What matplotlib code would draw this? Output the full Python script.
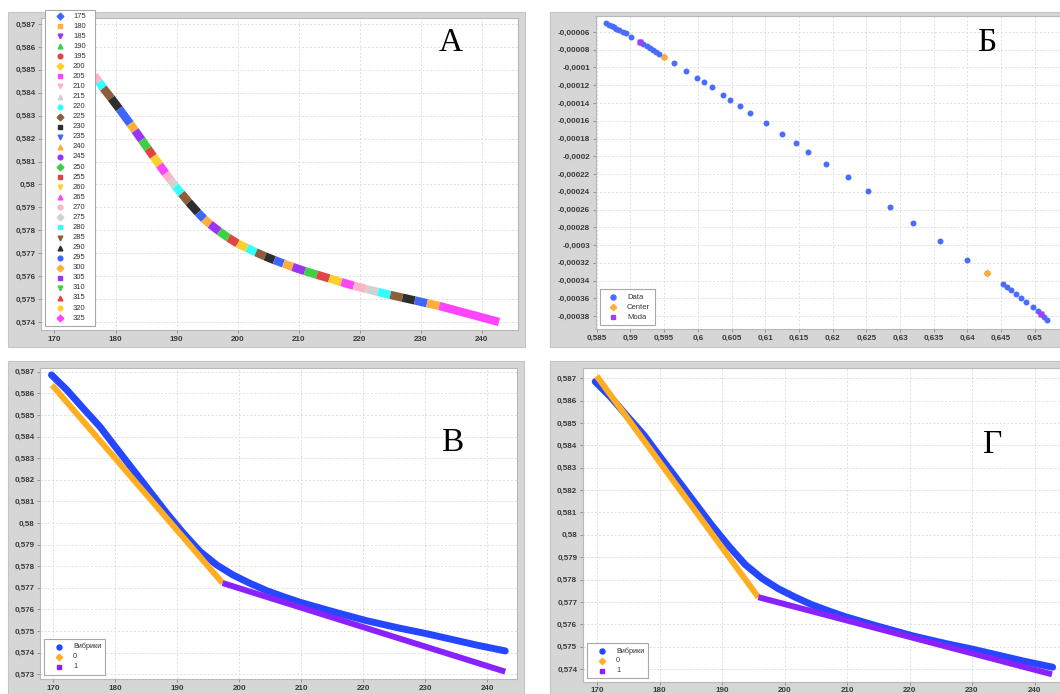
import matplotlib
matplotlib.use('Agg')
import matplotlib.pyplot as plt
from matplotlib.patches import Rectangle
from matplotlib.lines import Line2D
from matplotlib.ticker import FixedLocator, FuncFormatter

# ---------------- data ----------------
# Panel A: temperature series (legend) and colored chunks along the curve
a_labels = [175, 180, 185, 190, 195, 200, 205, 210, 215, 220, 225, 230, 235, 240, 245,
            250, 255, 260, 265, 270, 275, 280, 285, 290, 295, 300, 305, 310, 315, 320, 325]
a_x = [176.5, 177.3, 178.0, 179.3, 180.6, 182.4, 183.2, 184.3, 185.3, 186.2,
       187.2, 188.2, 189.0, 189.8, 190.8, 192.0, 193.5, 194.5, 195.5, 197.0,
       198.5, 200.0, 201.5, 203.0, 204.5, 206.0, 207.5, 209.0, 211.0, 213.0,
       215.0, 217.0, 219.0, 221.0, 223.0, 225.0, 227.0, 229.0, 231.0, 233.0, 242.8]
a_y = [0.58475, 0.58447, 0.58420, 0.58376, 0.58330, 0.58265, 0.58235, 0.58194, 0.58156, 0.58122,
       0.58085, 0.58048, 0.58020, 0.57992, 0.57960, 0.57922, 0.57877, 0.57849, 0.57826, 0.57795,
       0.57767, 0.57742, 0.57723, 0.57704, 0.57686, 0.57670, 0.57655, 0.57640, 0.57622, 0.57606,
       0.57590, 0.57574, 0.57558, 0.57544, 0.57531, 0.57518, 0.57506, 0.57494, 0.57482, 0.57470, 0.57400]
a_seg_series = [270, 220, 225, 230, 235, 240, 245, 250, 255, 260,
                265, 270, 275, 280, 285, 290, 295, 300, 305, 310,
                315, 320, 220, 225, 230, 235, 240, 245, 250, 255,
                260, 265, 270, 275, 280, 285, 290, 295, 300, 325]
a_xticks = [170, 180, 190, 200, 210, 220, 230, 240]
a_yticks = [0.574, 0.575, 0.576, 0.577, 0.578, 0.579, 0.580, 0.581, 0.582, 0.583,
            0.584, 0.585, 0.586, 0.587]

# Panel Б: derivative scatter
b_data_x = [0.58644, 0.58687, 0.58723, 0.58757, 0.58786, 0.58831, 0.58895, 0.58930, 0.59004,
            0.59142, 0.59191, 0.59242, 0.59291, 0.59331, 0.59380, 0.59429, 0.59499, 0.59647,
            0.59825, 0.59984, 0.60092, 0.60206, 0.60369, 0.60478, 0.60627, 0.60775, 0.61012,
            0.61250, 0.61458, 0.61636, 0.61903, 0.62229, 0.62526, 0.62852, 0.63193, 0.63594,
            0.63995, 0.64291, 0.64528, 0.64588, 0.64647, 0.64721, 0.64795, 0.64869, 0.64973,
            0.65047, 0.65092, 0.65136, 0.65180]
b_data_y = [-0.0000502, -0.0000518, -0.0000532, -0.0000547, -0.0000563, -0.0000577, -0.0000603,
            -0.0000615, -0.0000653, -0.0000714, -0.0000735, -0.0000758, -0.0000784, -0.0000803,
            -0.0000822, -0.0000851, -0.0000885, -0.0000949, -0.0001039, -0.0001118, -0.0001167,
            -0.0001223, -0.0001306, -0.0001366, -0.0001434, -0.0001513, -0.0001625, -0.0001749,
            -0.0001851, -0.0001952, -0.0002087, -0.0002234, -0.0002392, -0.0002572, -0.0002752,
            -0.0002955, -0.0003169, -0.0003315, -0.0003439, -0.0003473, -0.0003507, -0.0003552,
            -0.0003597, -0.0003642, -0.0003699, -0.0003744, -0.0003778, -0.0003811, -0.0003845]
b_center_x = [0.59499, 0.64291]
b_center_y = [-0.0000885, -0.0003315]
b_moda_x = [0.59142, 0.65092]
b_moda_y = [-0.0000714, -0.0003778]
b_xticks = [0.585, 0.590, 0.595, 0.600, 0.605, 0.610, 0.615, 0.620, 0.625, 0.630,
            0.635, 0.640, 0.645, 0.650]
b_yticks = [-0.00006, -0.00008, -0.0001, -0.00012, -0.00014, -0.00016, -0.00018, -0.0002,
            -0.00022, -0.00024, -0.00026, -0.00028, -0.0003, -0.00032, -0.00034, -0.00036, -0.00038]

# Panels В, Г: samples and piecewise linear fits
s_x = [169.7, 172.2, 174.8, 177.5, 180.2, 182.9, 185.6, 188.3, 191.0, 193.7, 196.4, 199.0,
       201.7, 204.4, 207.1, 209.8, 215.2, 220.5, 225.9, 230.0, 234.0, 238.3, 242.2, 242.9]
s_y = [0.58685, 0.58615, 0.58531, 0.58446, 0.58345, 0.58245, 0.58145, 0.58045, 0.57952,
       0.57867, 0.57805, 0.57759, 0.57721, 0.57687, 0.57659, 0.57633, 0.57589, 0.57548,
       0.57513, 0.57489, 0.57463, 0.57435, 0.57412, 0.57408]
v_fit0_x = [169.8, 197.3]
v_fit0_y = [0.58638, 0.57722]
v_fit1_x = [197.3, 242.9]
v_fit1_y = [0.57722, 0.57312]
g_fit0_x = [169.95, 195.8]
g_fit0_y = [0.58710, 0.57721]
g_fit1_x = [195.8, 242.8]
g_fit1_y = [0.57721, 0.57376]
v_yticks = [0.573, 0.574, 0.575, 0.576, 0.577, 0.578, 0.579, 0.580, 0.581, 0.582,
            0.583, 0.584, 0.585, 0.586, 0.587]
g_yticks = [0.574, 0.575, 0.576, 0.577, 0.578, 0.579, 0.580, 0.581, 0.582, 0.583,
            0.584, 0.585, 0.586, 0.587]

# ---------------- styles ----------------
palette12 = ['#3f66ff', '#ffae3a', '#9a35f5', '#3fcf45', '#e04545', '#ffd02a',
             '#ff45ff', '#ffb3c8', '#d2d2d2', '#33ffff', '#8b5e3c', '#2e2e2e']
markers5 = ['D', 's', 'v', '^', 'o']
BLUE = '#2447ff'
ORANGE = '#ffae22'
PURPLE = '#8a22ff'
FRAME = '#d6d6d6'
TICKFONT = dict(family='Liberation Sans', size=5.8, weight='bold')

W, H = 1060, 694
fig = plt.figure(figsize=(W / 100, H / 100), dpi=100)
fig.patch.set_facecolor('white')


def fx(x):
    return x / W


def fy(y):
    return 1 - y / H


def frame(x0, y0, x1, y1):
    r = Rectangle((fx(x0), fy(y1)), (x1 - x0) / W, (y1 - y0) / H, transform=fig.transFigure,
                  facecolor=FRAME, edgecolor='#c4c4c4', lw=0.8, zorder=-5)
    fig.patches.append(r)


def make_axes(x0, y0, x1, y1):
    ax = fig.add_axes([fx(x0), fy(y1), (x1 - x0) / W, (y1 - y0) / H])
    ax.set_facecolor('white')
    for s in ax.spines.values():
        s.set_color('#b8b8b8')
        s.set_linewidth(0.8)
    ax.grid(True, color='#dedede', linestyle=(0, (2, 2)), lw=0.7)
    ax.set_axisbelow(True)
    ax.tick_params(length=2, width=0.6, color='#888888', pad=2, labelcolor='#3a3a3a')
    return ax


def fmt(decimals):
    def f(v, pos):
        s = f"{v:.{decimals}f}"
        if '.' in s:
            s = s.rstrip('0').rstrip('.')
        return s.replace('.', ',')
    return FuncFormatter(f)


def set_ticks(ax, xt, yt, xd, yd):
    ax.xaxis.set_major_locator(FixedLocator(xt))
    ax.yaxis.set_major_locator(FixedLocator(yt))
    ax.xaxis.set_major_formatter(fmt(xd))
    ax.yaxis.set_major_formatter(fmt(yd))
    for lab in ax.get_xticklabels() + ax.get_yticklabels():
        lab.set_fontproperties(TICKFONT)


def legend_box(x0, y0, x1, y1):
    fig.patches.append(Rectangle((fx(x0), fy(y1)), (x1 - x0) / W, (y1 - y0) / H,
                                 transform=fig.transFigure, facecolor='white',
                                 edgecolor='#a8a8a8', lw=0.8, zorder=5))


def legend_entry(xm, xt, y, marker, color, text, ms=3.6, size=5.5):
    fig.add_artist(Line2D([fx(xm)], [fy(y)], transform=fig.transFigure, marker=marker,
                          color=color, markersize=ms, linestyle='none', zorder=6))
    fig.text(fx(xt), fy(y), text, ha='left', va='center', fontsize=size,
             family='Liberation Sans', color='#333333', zorder=6)


def letter(x, y, s):
    fig.text(fx(x), fy(y), s, ha='center', va='center', fontsize=24,
             family='Liberation Serif', color='black', zorder=7)


# ---------------- Panel A ----------------
frame(8, 12, 525, 347)
axA = make_axes(41, 18, 518, 330)
series_color = {lab: palette12[i % 12] for i, lab in enumerate(a_labels)}
series_marker = {lab: markers5[i % 5] for i, lab in enumerate(a_labels)}
for i, lab in enumerate(a_seg_series):
    axA.plot(a_x[i:i + 2], a_y[i:i + 2], color=series_color[lab], lw=6,
             solid_capstyle='butt', zorder=3)
axA.set_xlim(167.8, 245.9)
axA.set_ylim(0.57365, 0.58726)
set_ticks(axA, a_xticks, a_yticks, 0, 3)
legend_box(45, 10, 95, 326)
for i, lab in enumerate(a_labels):
    yy = 16 + i * 10.07
    legend_entry(60, 73, yy, series_marker[lab], series_color[lab], str(lab), ms=3.4)
letter(451, 43, 'А')

# ---------------- Panel Б ----------------
frame(550, 12, 1075, 347)
axB = make_axes(595.5, 16, 1066, 329)
axB.plot(b_data_x, b_data_y, 'o', color='#4a6cff', ms=4.3, mec='none', zorder=3)
axB.plot(b_center_x, b_center_y, 'D', color='#ffad33', ms=3.6, mec='none', zorder=4)
axB.plot(b_moda_x, b_moda_y, 's', color='#a040ff', ms=3.8, mec='none', zorder=4)
axB.set_xlim(0.58482, 0.65463)
axB.set_ylim(-0.0003946, -0.000042)
set_ticks(axB, b_xticks, b_yticks, 3, 5)
legend_box(600, 289, 655, 325)
legend_entry(613, 627, 297.3, 'o', '#4a6cff', 'Data')
legend_entry(613, 627, 307.3, 'D', '#ffad33', 'Center', ms=3.2)
legend_entry(613, 627, 317.3, 's', '#a040ff', 'Moda', ms=3.4)
letter(987, 43, 'Б')

# ---------------- Panel В ----------------
frame(8, 361, 524, 700)
axV = make_axes(40, 368, 517, 679)
axV.plot(s_x, s_y, color=BLUE, lw=5, solid_capstyle='round', zorder=3)
axV.plot(v_fit0_x, v_fit0_y, color=ORANGE, lw=4.3, solid_capstyle='butt', zorder=4)
axV.plot(v_fit1_x, v_fit1_y, color=PURPLE, lw=4.3, solid_capstyle='butt', zorder=4)
axV.set_xlim(167.85, 244.8)
axV.set_ylim(0.57278, 0.58717)
set_ticks(axV, a_xticks, v_yticks, 0, 3)
legend_box(44, 639, 105, 675)
legend_entry(59, 73, 646.5, 'o', BLUE, 'Вибрики', size=5.2)
legend_entry(59, 73, 656.5, 'D', ORANGE, '0', ms=3.2, size=5.2)
legend_entry(59, 73, 667, 's', PURPLE, '1', ms=3.4, size=5.2)
letter(452, 443, 'В')

# ---------------- Panel Г ----------------
frame(550, 361, 1075, 700)
axG = make_axes(582.7, 368, 1066, 681.7)
axG.plot(s_x, s_y, color=BLUE, lw=5, solid_capstyle='round', zorder=3)
axG.plot(g_fit0_x, g_fit0_y, color=ORANGE, lw=4.3, solid_capstyle='butt', zorder=4)
axG.plot(g_fit1_x, g_fit1_y, color=PURPLE, lw=4.3, solid_capstyle='butt', zorder=4)
axG.set_xlim(167.7, 245.04)
axG.set_ylim(0.57343, 0.58746)
set_ticks(axG, a_xticks, g_yticks, 0, 3)
legend_box(587, 643, 648, 678)
legend_entry(602, 616, 651, 'o', BLUE, 'Вибрики', size=5.2)
legend_entry(602, 616, 661, 'D', ORANGE, '0', ms=3.2, size=5.2)
legend_entry(602, 616, 671, 's', PURPLE, '1', ms=3.4, size=5.2)
letter(993, 445, 'Г')

fig.savefig('out.png', dpi=100, facecolor='white')
